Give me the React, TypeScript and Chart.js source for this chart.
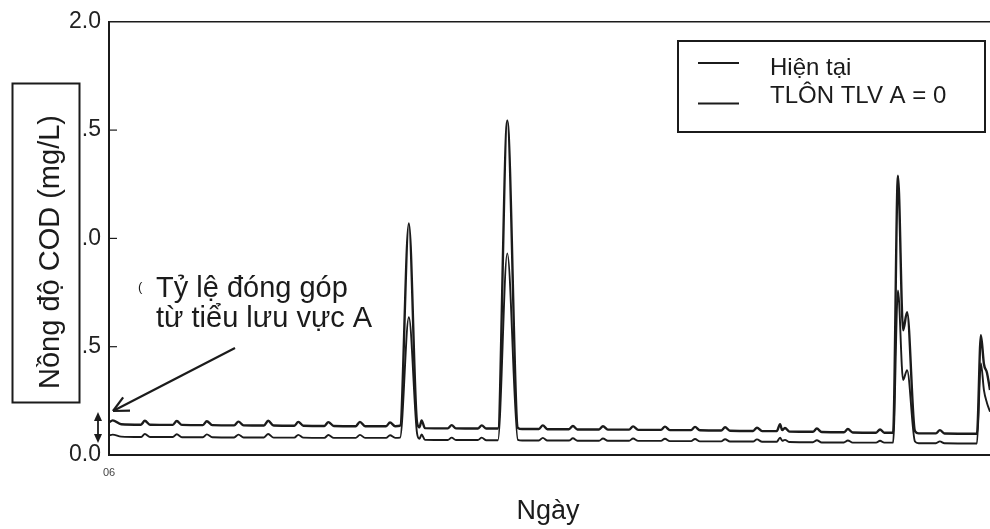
import React, { useEffect, useRef } from "react";
import { Chart, registerables } from "chart.js";

Chart.register(...registerables);

// Time axis in days from the start of the record
const days = [
  0, 0.12, 0.4,
  1.05, 1.18, 1.35,
  2.1, 2.23, 2.4,
  3.09, 3.22, 3.4,
  4.12, 4.26, 4.43,
  5.1, 5.24, 5.42,
  6.1, 6.23, 6.4,
  7.09, 7.22, 7.4,
  8.12, 8.26, 8.43,
  9.12, 9.25, 9.42,
  9.58, 9.87, 10.14, 10.22, 10.29, 10.4,
  11.15, 11.28, 11.42,
  12.14, 12.27, 12.42,
  12.8, 13.11, 13.46, 13.6,
  14.15, 14.28, 14.43,
  15.14, 15.27, 15.42,
  16.13, 16.26, 16.42,
  17.12, 17.25, 17.42,
  18.17, 18.3, 18.46,
  19.16, 19.29, 19.45,
  20.15, 20.28, 20.44,
  21.2, 21.33, 21.5,
  21.98, 22.09, 22.16, 22.25, 22.4,
  23.17, 23.3, 23.46,
  24.19, 24.32, 24.48,
  25.25, 25.38, 25.52,
  25.81, 25.97, 26.14, 26.27, 26.53, 26.65,
  27.22, 27.35, 27.5,
  28.57, 28.7, 28.8, 28.9, 29,
];

// "Hiện tại" (current)
const currentCOD = [
  0.15, 0.16, 0.142,
  0.14, 0.158, 0.14,
  0.139, 0.157, 0.139,
  0.138, 0.156, 0.138,
  0.137, 0.154, 0.137,
  0.136, 0.158, 0.136,
  0.135, 0.153, 0.135,
  0.134, 0.152, 0.134,
  0.133, 0.153, 0.133,
  0.133, 0.15, 0.133,
  0.135, 1.069, 0.15, 0.128, 0.16, 0.124,
  0.123, 0.138, 0.123,
  0.122, 0.137, 0.122,
  0.122, 1.544, 0.125, 0.12,
  0.12, 0.137, 0.119,
  0.119, 0.134, 0.118,
  0.118, 0.133, 0.117,
  0.117, 0.132, 0.116,
  0.116, 0.131, 0.115,
  0.115, 0.13, 0.114,
  0.113, 0.128, 0.112,
  0.111, 0.126, 0.11,
  0.11, 0.142, 0.115, 0.125, 0.108,
  0.107, 0.122, 0.106,
  0.105, 0.12, 0.104,
  0.103, 0.118, 0.103,
  0.103, 1.29, 0.576, 0.659, 0.11, 0.1,
  0.1, 0.115, 0.099,
  0.098, 0.553, 0.42, 0.38, 0.3,
];

// "TLÔN TLV A = 0" (scenario)
const scenarioCOD = [
  0.09, 0.094, 0.085,
  0.083, 0.097, 0.083,
  0.083, 0.096, 0.082,
  0.082, 0.095, 0.082,
  0.081, 0.094, 0.081,
  0.081, 0.097, 0.08,
  0.08, 0.093, 0.08,
  0.079, 0.092, 0.079,
  0.079, 0.093, 0.079,
  0.079, 0.091, 0.079,
  0.08, 0.636, 0.1, 0.075, 0.095, 0.07,
  0.069, 0.08, 0.069,
  0.069, 0.08, 0.068,
  0.068, 0.931, 0.07, 0.067,
  0.067, 0.079, 0.067,
  0.067, 0.077, 0.066,
  0.066, 0.076, 0.066,
  0.066, 0.076, 0.065,
  0.065, 0.075, 0.064,
  0.064, 0.074, 0.063,
  0.063, 0.073, 0.062,
  0.062, 0.072, 0.061,
  0.061, 0.08, 0.066, 0.07, 0.06,
  0.059, 0.068, 0.058,
  0.058, 0.067, 0.057,
  0.057, 0.066, 0.057,
  0.057, 0.76, 0.346, 0.392, 0.062, 0.054,
  0.054, 0.063, 0.054,
  0.053, 0.424, 0.3, 0.24, 0.2,
];

const yTickValues = [0, 0.5, 1, 1.5, 2];
const yTickLabels = ["0.0", ".5", ".0", ".5", "2.0"];
const xTickLabel = "06";
const seriesNames = ["Hiện tại", "TLÔN TLV A = 0"];
const yTitle = "Nồng độ COD (mg/L)";
const xTitle = "Ngày";
const noteLines = ["Tỷ lệ đóng góp", "từ tiểu lưu vực A"];

const INK = "#1b1b1b";
const FONT = '"Liberation Sans", Arial, sans-serif';

const decorPlugin = {
  id: "decor",
  afterDraw(chart: any) {
    const ctx = chart.ctx as CanvasRenderingContext2D;
    const { left, right, top } = chart.chartArea;
    const yScale = chart.scales.y;
    const seg = (x1: number, y1: number, x2: number, y2: number) => {
      ctx.beginPath();
      ctx.moveTo(x1, y1);
      ctx.lineTo(x2, y2);
      ctx.stroke();
    };
    ctx.save();
    ctx.strokeStyle = INK;
    ctx.fillStyle = INK;
    ctx.lineCap = "butt";

    // top frame line
    ctx.lineWidth = 1.6;
    seg(left - 1, top, right, top);

    // inward tick marks
    ctx.lineWidth = 1.2;
    [0.5, 1, 1.5].forEach((v) => {
      const py = yScale.getPixelForValue(v);
      seg(left, py, left + 8, py);
    });

    // y title box + rotated title
    ctx.lineWidth = 2;
    ctx.strokeRect(12.5, 83.5, 67, 319);
    ctx.save();
    ctx.translate(59, 252);
    ctx.rotate(-Math.PI / 2);
    ctx.font = `29px ${FONT}`;
    ctx.textAlign = "center";
    ctx.textBaseline = "alphabetic";
    ctx.fillText(yTitle, 0, 0);
    ctx.restore();

    // x title
    ctx.font = `27px ${FONT}`;
    ctx.textAlign = "center";
    ctx.textBaseline = "alphabetic";
    ctx.fillText(xTitle, 548, 519);

    // legend box
    ctx.lineWidth = 2;
    ctx.strokeRect(678, 41, 307, 91);
    ctx.lineWidth = 2.2;
    seg(698, 63, 739, 63);
    ctx.lineWidth = 1.8;
    seg(698, 103.5, 739, 103.5);
    ctx.font = `24px ${FONT}`;
    ctx.textAlign = "left";
    ctx.fillText(seriesNames[0], 770, 75);
    ctx.fillText(seriesNames[1], 770, 103);

    // annotation text
    ctx.font = `29px ${FONT}`;
    ctx.fillText(noteLines[0], 156, 297);
    ctx.fillText(noteLines[1], 156, 327);
    ctx.font = `13px ${FONT}`;
    ctx.fillText("(", 138, 291);

    // annotation arrow
    const tx = 113, ty = 411, sx = 235, sy = 348;
    ctx.lineWidth = 2.2;
    seg(sx, sy, tx, ty);
    const ang = Math.atan2(sy - ty, sx - tx);
    const len = 17, spread = (26 * Math.PI) / 180;
    seg(tx, ty, tx + len * Math.cos(ang - spread), ty + len * Math.sin(ang - spread));
    seg(tx, ty, tx + len * Math.cos(ang + spread), ty + len * Math.sin(ang + spread));

    // double-headed vertical arrow
    ctx.lineWidth = 1.8;
    seg(98, 418, 98, 437);
    ctx.beginPath();
    ctx.moveTo(98, 412);
    ctx.lineTo(94, 421);
    ctx.lineTo(102, 421);
    ctx.closePath();
    ctx.fill();
    ctx.beginPath();
    ctx.moveTo(98, 443);
    ctx.lineTo(94, 434);
    ctx.lineTo(102, 434);
    ctx.closePath();
    ctx.fill();

    ctx.restore();
  },
};

export default function App() {
  const ref = useRef<HTMLCanvasElement>(null);

  useEffect(() => {
    if (!ref.current) return;
    const chart = new Chart(ref.current, {
      type: "line",
      data: {
        datasets: [
          {
            label: seriesNames[0],
            data: days.map((d, i) => ({ x: d, y: currentCOD[i] })),
            borderColor: INK,
            borderWidth: 2.4,
            pointRadius: 0,
            cubicInterpolationMode: "monotone",
            fill: false,
          },
          {
            label: seriesNames[1],
            data: days.map((d, i) => ({ x: d, y: scenarioCOD[i] })),
            borderColor: INK,
            borderWidth: 1.9,
            pointRadius: 0,
            cubicInterpolationMode: "monotone",
            fill: false,
          },
        ],
      },
      options: {
        animation: false,
        responsive: false,
        devicePixelRatio: 1,
        layout: { padding: { left: 0, right: 0, top: 21, bottom: 0 } },
        plugins: {
          legend: { display: false },
          tooltip: { enabled: false },
        },
        scales: {
          x: {
            type: "linear",
            min: 0,
            max: 29,
            grid: { display: false, drawTicks: false },
            border: { display: true, color: INK, width: 2 },
            afterBuildTicks: (scale: any) => {
              scale.ticks = [{ value: 0 }];
            },
            afterFit: (scale: any) => {
              scale.height = 74;
            },
            ticks: {
              autoSkip: false,
              maxRotation: 0,
              padding: 11,
              color: "#444",
              font: { family: FONT, size: 11 },
              callback: () => xTickLabel,
            },
          },
          y: {
            type: "linear",
            min: 0,
            max: 2,
            grid: { display: false, drawTicks: false },
            border: { display: true, color: INK, width: 2 },
            afterBuildTicks: (scale: any) => {
              scale.ticks = yTickValues.map((v) => ({ value: v }));
            },
            afterFit: (scale: any) => {
              scale.width = 109;
            },
            ticks: {
              autoSkip: false,
              padding: 8,
              color: "#222",
              font: { family: FONT, size: 23 },
              callback: (v: any) => {
                const i = yTickValues.indexOf(Number(v));
                return i >= 0 ? yTickLabels[i] : "";
              },
            },
          },
        },
      },
      plugins: [decorPlugin],
    } as any);
    return () => chart.destroy();
  }, []);

  return (
    <div
      style={{
        position: "fixed",
        left: 0,
        top: 0,
        width: 990,
        height: 529,
        background: "#fff",
        overflow: "hidden",
      }}
    >
      <canvas
        ref={ref}
        width={990}
        height={529}
        style={{ display: "block", width: 990, height: 529 }}
      />
    </div>
  );
}
